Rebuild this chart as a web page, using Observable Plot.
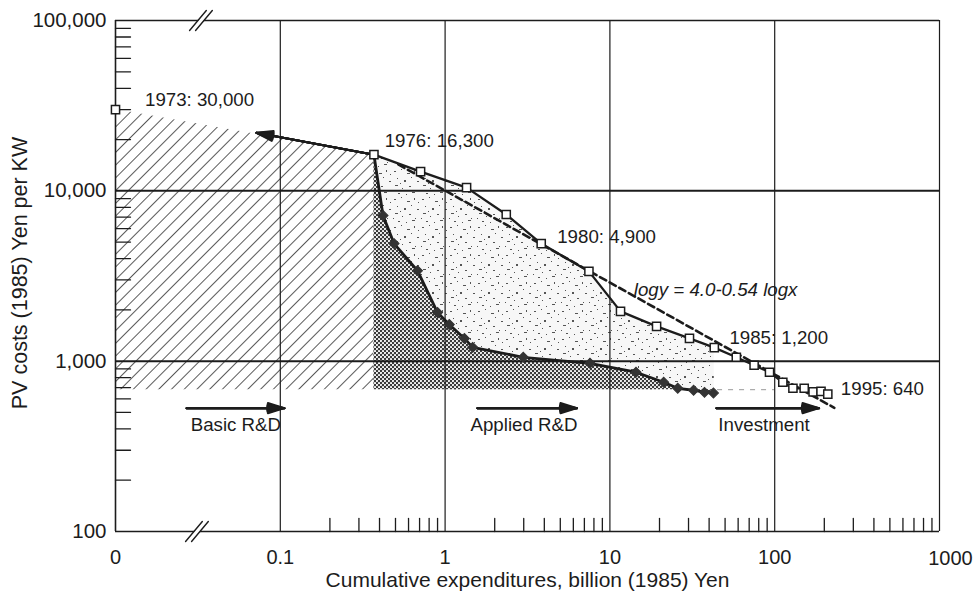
<!DOCTYPE html>
<html>
<head>
<meta charset="utf-8">
<script src="https://cdn.jsdelivr.net/npm/d3@7"></script>
<script src="https://cdn.jsdelivr.net/npm/@observablehq/plot@0.6"></script>
<style>
  html, body { margin: 0; padding: 0; background: #fff; }
  #chart svg { font-family: "Liberation Sans", Arial, Helvetica, sans-serif; }
</style>
</head>
<body>
<svg width="0" height="0" style="position:absolute">
  <defs>
    <pattern id="hatch" patternUnits="userSpaceOnUse" width="9" height="9" patternTransform="rotate(45)">
      <rect width="9" height="9" fill="#fff"/>
      <line x1="0" y1="-1" x2="0" y2="10" stroke="#222" stroke-width="1.5"/>
    </pattern>
    <pattern id="cross" patternUnits="userSpaceOnUse" width="4" height="4">
      <rect width="4" height="4" fill="#3a3a3a"/>
      <circle cx="1" cy="1" r="1.05" fill="#fff"/>
      <circle cx="3" cy="3" r="1.05" fill="#fff"/>
    </pattern>
    <pattern id="stipple" patternUnits="userSpaceOnUse" width="28" height="28">
      <rect width="28" height="28" fill="#f7f7f7"/>
      <g fill="#555">
        <rect x="2" y="3" width="2" height="1"/><rect x="9" y="1" width="1" height="1"/>
        <rect x="15" y="5" width="3" height="1"/><rect x="22" y="2" width="1" height="2"/>
        <rect x="5" y="10" width="1" height="1"/><rect x="12" y="12" width="2" height="2"/>
        <rect x="19" y="9" width="1" height="1"/><rect x="25" y="13" width="2" height="1"/>
        <rect x="3" y="17" width="3" height="1"/><rect x="10" y="20" width="1" height="1"/>
        <rect x="17" y="18" width="2" height="1"/><rect x="23" y="22" width="1" height="1"/>
        <rect x="6" y="25" width="2" height="1"/><rect x="14" y="26" width="1" height="1"/>
        <rect x="20" y="24" width="3" height="1"/><rect x="8" y="15" width="1" height="1"/>
        <rect x="1" y="22" width="1" height="1"/><rect x="26" y="6" width="1" height="1"/>
      </g>
    </pattern>
  </defs>
</svg>
<div id="chart"></div>
<script>
// ---------- data ----------
// upper curve (squares): cumulative expenditures (billion 1985 Yen) vs PV cost (Yen/kW)
const upperX = [0.37, 0.71, 1.35, 2.35, 3.83, 7.46, 11.6, 19.2, 30.4, 43, 58.5, 75, 93, 112, 129, 151, 171, 191, 210];
const upperY = [16300, 12960, 10440, 7260, 4900, 3365, 1960, 1600, 1360, 1200, 1054, 946, 861, 752, 693, 693, 660, 665, 640];
// lower curve (filled diamonds)
const lowerX = [0.37, 0.42, 0.49, 0.68, 0.90, 1.06, 1.31, 1.47, 2.98, 7.57, 14.4, 21.2, 25.8, 32.2, 37.5, 42.5];
const lowerY = [16300, 7160, 4900, 3400, 1930, 1640, 1360, 1205, 1054, 971, 861, 752, 693, 675, 656, 650];
// 1973 start point (plotted at the "0" position of the broken axis)
const startX = [0.01];
const startY = [30000];
// regression line logy = 4.0 - 0.54 logx (end points)
const fitX = [0.52, 230];
const fitY = [14290, 532];
// shaded regions
const shadeBase = 680;
const hatchX = [0.01, 0.37];
const hatchY = [30000, 16300];
const stippleMaxX = 43;
const baseExtX = [45, 100];
// axes
const xTicks = [0.01, 0.1, 1, 10, 100];
const xTickLabels = ["0", "0.1", "1", "10", "100"];
const xLastTick = [1000];
const xLastTickLabel = ["1000"];
const yTicks = [100, 1000, 10000, 100000];
const yTickLabels = ["100", "1,000", "10,000", "100,000"];
const xGrid = [0.1, 1, 10, 100, 1000];
const yGrid = [1000, 10000];
const xMinor = [0.2,0.3,0.4,0.5,0.6,0.7,0.8,0.9, 2,3,4,5,6,7,8,9, 20,30,40,50,60,70,80,90, 200,300,400,500,600,700,800,900];
const yMinor = [200,300,400,500,600,700,800,900, 2000,3000,4000,5000,6000,7000,8000,9000, 20000,30000,40000,50000,60000,70000,80000,90000];
const breakX = [0.033];
// annotations
const labelText = ["1973: 30,000", "1976: 16,300", "1980: 4,900", "1985: 1,200", "1995: 640"];
const labelX = [0.0151, 0.43, 4.79, 53.1, 252];
const labelY = [34200, 19700, 5390, 1361, 684];
const fitLabel = ["logy = 4.0-0.54 logx"];
const fitLabelX = [13.97];
const fitLabelY = [2600];
const phaseNames = ["Basic R&D", "Applied R&D", "Investment"];
const phaseTextX = [0.0286, 1.426, 45.5];
const phaseTextY = 421;
const phaseArrowX1 = [0.027, 1.57, 44.3];
const phaseArrowX2 = [0.106, 6.32, 186];
const phaseArrowY = 530;
const backArrowX = [0.37, 0.0716];
const backArrowY = [16300, 21900];
const xTitle = "Cumulative expenditures, billion (1985) Yen";
const yTitle = "PV costs (1985) Yen per KW";

// ---------- tables ----------
const upper = upperX.map((x, i) => ({x, y: upperY[i]}));
const lower = lowerX.map((x, i) => ({x, y: lowerY[i]}));
const stipple = upper.filter(d => d.x <= stippleMaxX);
const hatch = hatchX.map((x, i) => ({x, y: hatchY[i]}));
const fit = fitX.map((x, i) => ({x, y: fitY[i]}));
const start = startX.map((x, i) => ({x, y: startY[i]}));
const labels = labelText.map((t, i) => ({t, x: labelX[i], y: labelY[i]}));
const phases = phaseNames.map((t, i) => ({t, x: phaseTextX[i], x1: phaseArrowX1[i], x2: phaseArrowX2[i]}));
const backArrow = [{x1: backArrowX[0], y1: backArrowY[0], x2: backArrowX[1], y2: backArrowY[1]}];
const xFmt = new Map(xTicks.map((t, i) => [t, xTickLabels[i]]));
const yFmt = new Map(yTicks.map((t, i) => [t, yTickLabels[i]]));

const ink = "#1c1c1c";
const tickShape = {draw(ctx, l) { ctx.moveTo(0, 0); ctx.lineTo(0, -l); }};
const centerShape = {draw(ctx, l) { ctx.moveTo(0, -l / 2); ctx.lineTo(0, l / 2); }};

// filled-looking arrow heads: stack arrows of decreasing head angle
function filledArrows(data, opts) {
  return [34, 26, 18, 10, 3].map(a => Plot.arrow(data, {...opts, headAngle: a, headLength: 13, stroke: ink, strokeWidth: 2}));
}

const plot = Plot.plot({
  width: 973,
  height: 597,
  marginLeft: 115,
  marginRight: 34,
  marginTop: 20,
  marginBottom: 66,
  x: {type: "log", domain: [0.01, 1000]},
  y: {type: "log", domain: [100, 100000]},
  style: {background: "#fff", color: ink, fontFamily: "Liberation Sans, Arial, sans-serif"},
  marks: [
    // shaded regions
    Plot.areaY(stipple, {x: "x", y1: shadeBase, y2: "y", fill: "url(#stipple)"}),
    Plot.areaY(hatch, {x: "x", y1: shadeBase, y2: "y", fill: "url(#hatch)"}),
    Plot.areaY(lower, {x: "x", y1: shadeBase, y2: "y", fill: "url(#cross)"}),
    Plot.ruleY([shadeBase], {x1: baseExtX[0], x2: baseExtX[1], stroke: "#999", strokeWidth: 1, strokeDasharray: "5,6"}),
    // grid & frame
    Plot.ruleX(xGrid, {stroke: ink, strokeWidth: 1.2}),
    Plot.ruleY(yGrid, {stroke: ink, strokeWidth: 2}),
    Plot.ruleY([100, 100000], {stroke: ink, strokeWidth: 1.6}),
    Plot.ruleX([0.01], {stroke: ink, strokeWidth: 1.6}),
    // minor ticks
    Plot.vector(xMinor, {x: d => d, y: 100, length: 13, rotate: 0, anchor: "start", shape: tickShape, stroke: ink, strokeWidth: 1.3, fill: "none"}),
    Plot.vector(yMinor, {x: 0.01, y: d => d, length: 15, rotate: 90, anchor: "start", shape: tickShape, stroke: ink, strokeWidth: 1.3, fill: "none"}),
    // axis breaks
    Plot.vector(breakX, {x: d => d, y: 100000, length: 9, rotate: 40, anchor: "start", shape: centerShape, stroke: "#fff", strokeWidth: 4, fill: "none"}),
    Plot.vector(breakX, {x: d => d, y: 100, length: 9, rotate: 40, anchor: "start", shape: centerShape, stroke: "#fff", strokeWidth: 4, fill: "none", dx: -4}),
    ...[-3, 3].map(o => Plot.vector(breakX, {x: d => d, y: 100000, length: 26, rotate: 40, anchor: "start", shape: centerShape, stroke: ink, strokeWidth: 1.4, fill: "none", dx: o})),
    ...[-3, 3].map(o => Plot.vector(breakX, {x: d => d, y: 100, length: 26, rotate: 40, anchor: "start", shape: centerShape, stroke: ink, strokeWidth: 1.4, fill: "none", dx: o - 4})),
    // axes
    Plot.axisX(xTicks, {anchor: "bottom", tickSize: 0, tickPadding: 18, tickFormat: d => xFmt.get(d), fontSize: 20, label: null}),
    Plot.text(xLastTick, {x: d => d, frameAnchor: "bottom", text: (d, i) => xLastTickLabel[i], dy: 27, dx: 11, fontSize: 20, lineAnchor: "middle"}),
    Plot.axisY(yTicks, {anchor: "left", tickSize: 0, tickPadding: 9, tickFormat: d => yFmt.get(d), fontSize: 20.5, label: null}),
    Plot.text([xTitle], {frameAnchor: "bottom", dy: 49, lineAnchor: "middle", textAnchor: "middle", fontSize: 21, text: d => d, style: "letter-spacing:0.4px"}),
    Plot.text([yTitle], {frameAnchor: "left", dx: -95, dy: -3, rotate: -90, textAnchor: "middle", lineAnchor: "middle", fontSize: 21.5, text: d => d, style: "letter-spacing:1.6px"}),
    // regression line
    Plot.line(fit, {x: "x", y: "y", stroke: ink, strokeWidth: 2.6, strokeDasharray: "7,4"}),
    // curves
    Plot.line(lower, {x: "x", y: "y", stroke: ink, strokeWidth: 2.8}),
    Plot.dot(lower.slice(1), {x: "x", y: "y", symbol: "square", rotate: 45, r: 4, fill: "#333", stroke: "#333", strokeWidth: 1}),
    Plot.line(upper, {x: "x", y: "y", stroke: ink, strokeWidth: 2.3}),
    // arrows
    ...filledArrows(backArrow, {x1: "x1", y1: "y1", x2: "x2", y2: "y2"}),
    ...filledArrows(phases, {x1: "x1", x2: "x2", y1: phaseArrowY, y2: phaseArrowY}),
    Plot.dot(upper, {x: "x", y: "y", symbol: "square", r: 4.6, fill: "#fff", stroke: ink, strokeWidth: 1.5}),
    Plot.dot(start, {x: "x", y: "y", symbol: "square", r: 4.6, fill: "#fff", stroke: ink, strokeWidth: 1.5}),
    // labels
    Plot.text(labels, {x: "x", y: "y", text: "t", textAnchor: "start", lineAnchor: "middle", fontSize: 18.7, fill: ink}),
    Plot.text(fitLabel, {x: () => fitLabelX[0], y: () => fitLabelY[0], text: d => d, textAnchor: "start", lineAnchor: "middle", fontSize: 18.7, fontStyle: "italic", fill: ink}),
    Plot.text(phases, {x: "x", y: phaseTextY, text: "t", textAnchor: "start", lineAnchor: "middle", fontSize: 18.7, fill: ink})
  ]
});
document.getElementById("chart").appendChild(plot);
</script>
</body>
</html>
